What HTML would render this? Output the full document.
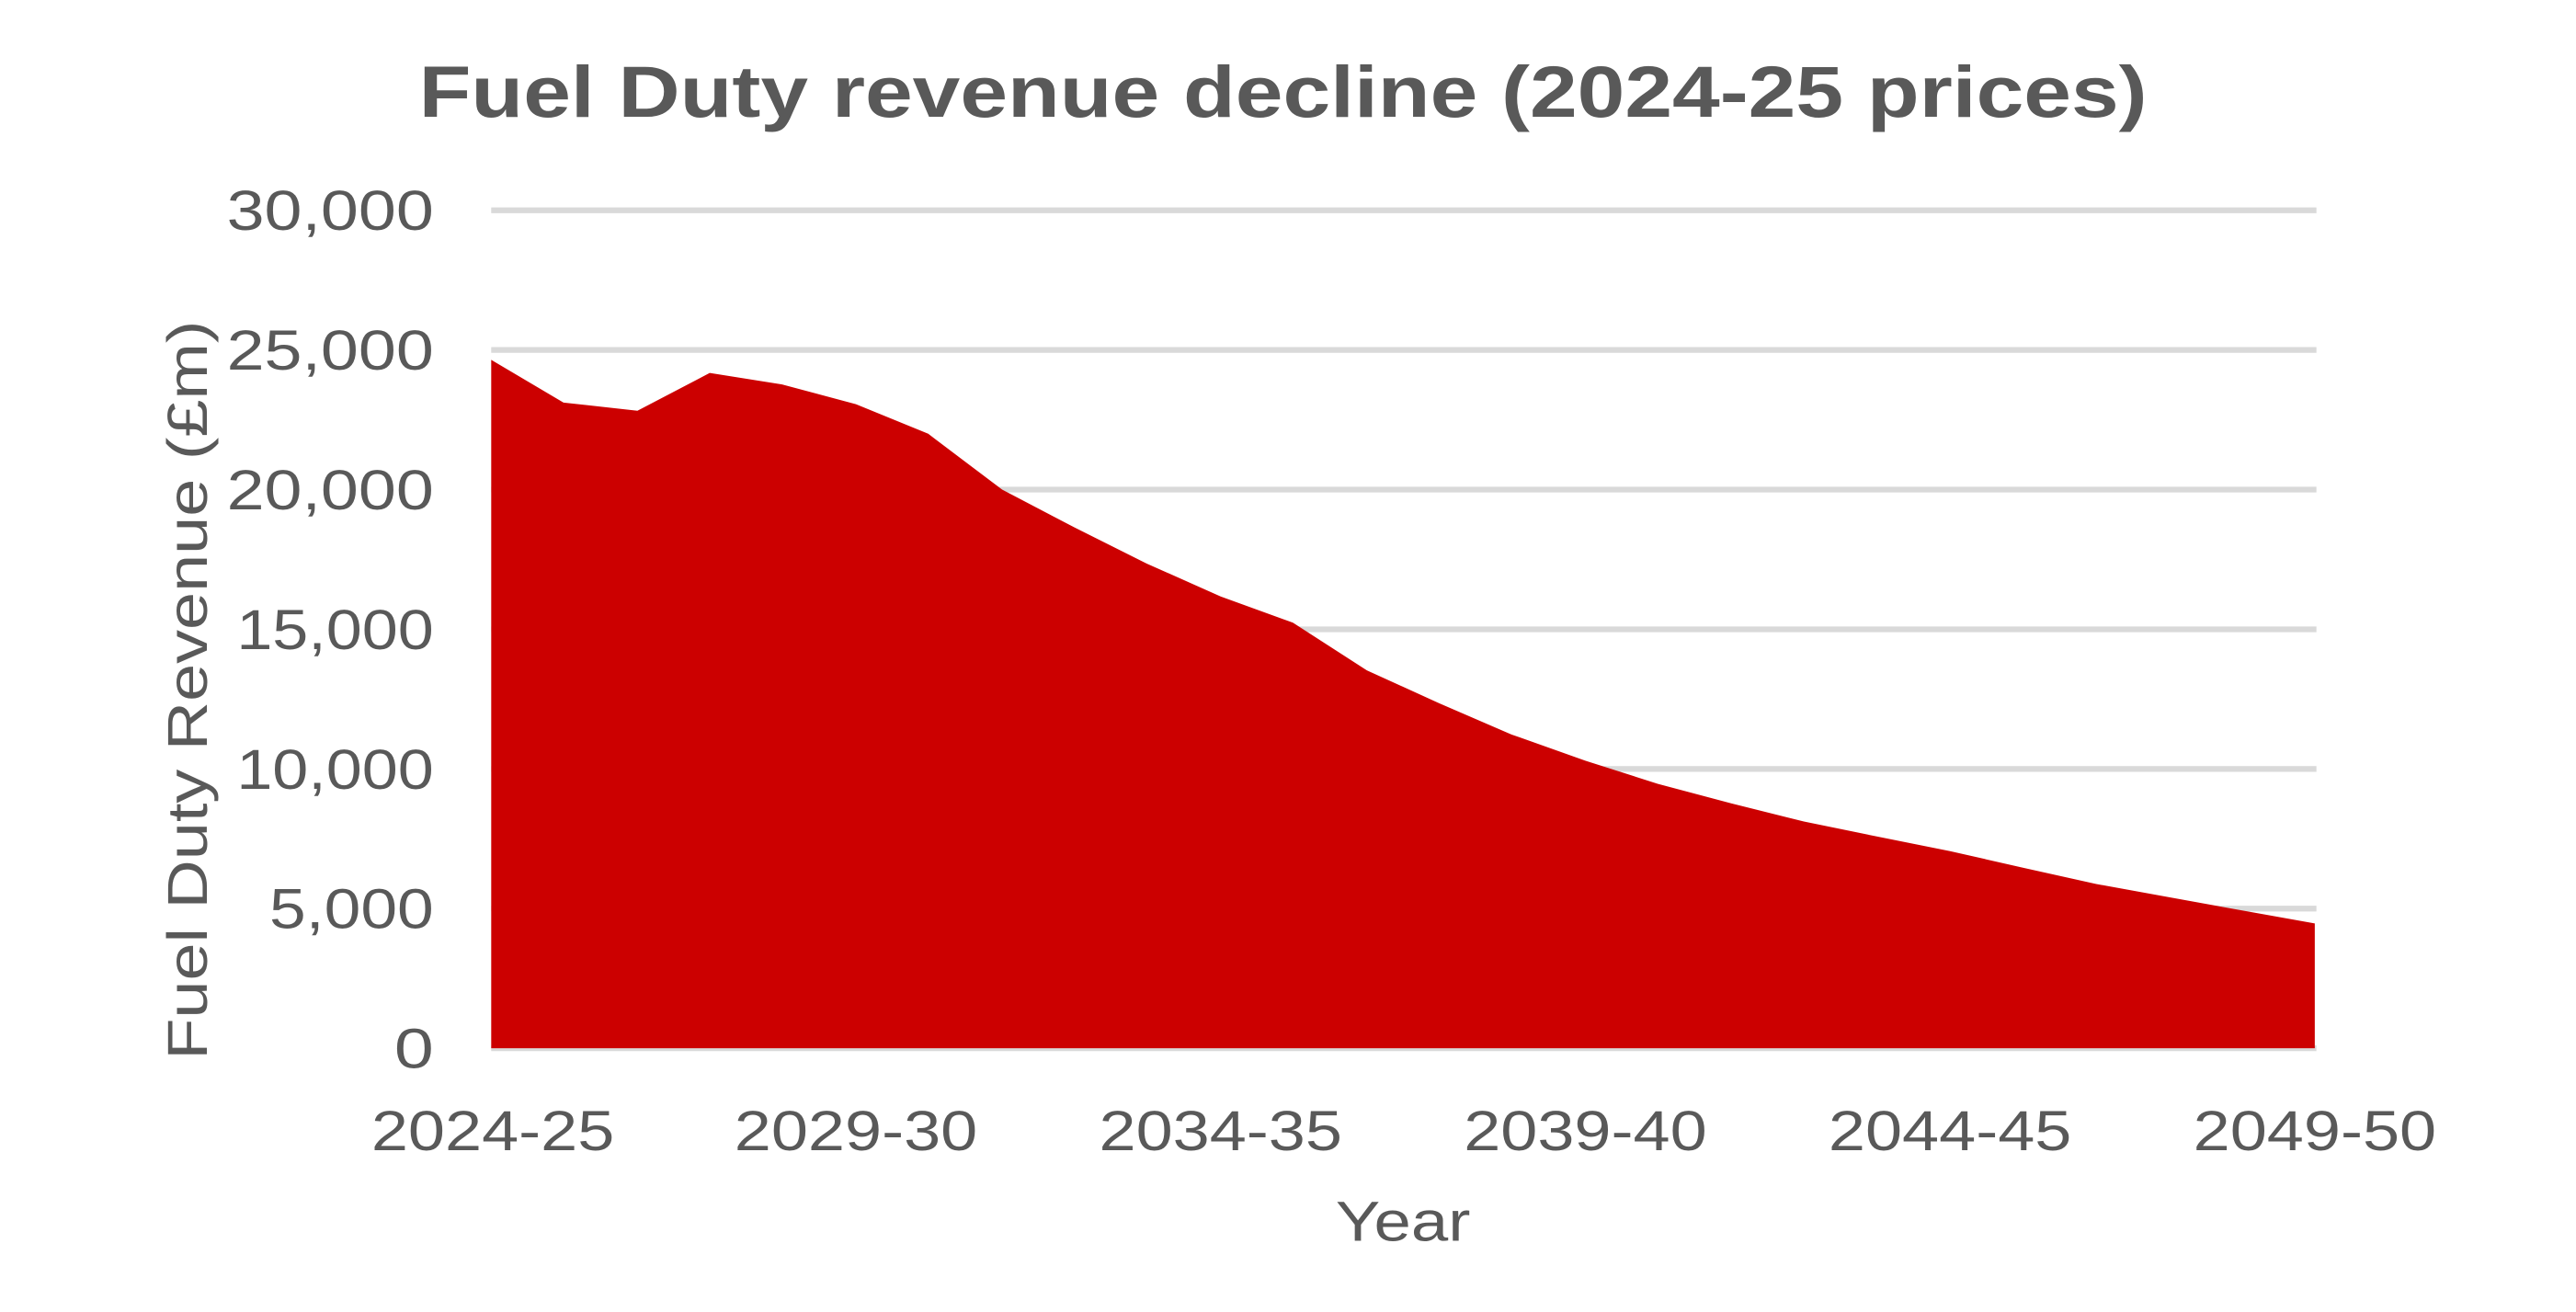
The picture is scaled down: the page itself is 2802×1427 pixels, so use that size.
<!DOCTYPE html>
<html><head><meta charset="utf-8"><style>
html,body{margin:0;padding:0;background:#fff;}
svg{display:block;}
text{font-family:"Liberation Sans",sans-serif;fill:#595959;}
</style></head><body>
<svg width="2802" height="1427" viewBox="0 0 1568 798.5" preserveAspectRatio="none" xmlns="http://www.w3.org/2000/svg">
<rect width="1568" height="798.5" fill="#fff"/>
<text x="781" y="71" text-anchor="middle" font-size="44" font-weight="bold" textLength="1052" lengthAdjust="spacingAndGlyphs">Fuel Duty revenue decline (2024-25 prices)</text>
<g stroke="#d9d9d9" stroke-width="3.5">
<line x1="299" x2="1410" y1="128" y2="128"/>
<line x1="299" x2="1410" y1="213" y2="213"/>
<line x1="299" x2="1410" y1="298" y2="298"/>
<line x1="299" x2="1410" y1="383" y2="383"/>
<line x1="299" x2="1410" y1="468" y2="468"/>
<line x1="299" x2="1410" y1="553" y2="553"/>
<line x1="299" x2="1410" y1="638" y2="638"/>
</g>
<polygon fill="#cc0000" points="299,638 299,219 343,245 388,250 432,227 476,234 521,246 565,264 610,298 654,321 698,343 743,363 787,379 832,408 876,428 920,447 965,463 1009,477 1054,489 1098,500 1142,509 1187,518 1231,528 1276,538 1320,546 1364,554 1409,562 1409,638"/>
<g font-size="34" text-anchor="end">
<text x="264" y="140" textLength="126" lengthAdjust="spacingAndGlyphs">30,000</text>
<text x="264" y="225" textLength="126" lengthAdjust="spacingAndGlyphs">25,000</text>
<text x="264" y="310" textLength="126" lengthAdjust="spacingAndGlyphs">20,000</text>
<text x="264" y="395" textLength="120" lengthAdjust="spacingAndGlyphs">15,000</text>
<text x="264" y="480" textLength="120" lengthAdjust="spacingAndGlyphs">10,000</text>
<text x="264" y="565" textLength="100" lengthAdjust="spacingAndGlyphs">5,000</text>
<text x="264" y="650" textLength="24" lengthAdjust="spacingAndGlyphs">0</text>
</g>
<g font-size="34" text-anchor="middle">
<text x="300" y="700" textLength="148" lengthAdjust="spacingAndGlyphs">2024-25</text>
<text x="521" y="700" textLength="148" lengthAdjust="spacingAndGlyphs">2029-30</text>
<text x="743" y="700" textLength="148" lengthAdjust="spacingAndGlyphs">2034-35</text>
<text x="965" y="700" textLength="148" lengthAdjust="spacingAndGlyphs">2039-40</text>
<text x="1187" y="700" textLength="148" lengthAdjust="spacingAndGlyphs">2044-45</text>
<text x="1409" y="700" textLength="148" lengthAdjust="spacingAndGlyphs">2049-50</text>
<text x="854" y="755" textLength="82" lengthAdjust="spacingAndGlyphs">Year</text>
</g>
<text transform="translate(126,420) rotate(-90)" font-size="34" text-anchor="middle" textLength="450" lengthAdjust="spacingAndGlyphs">Fuel Duty Revenue (£m)</text>
</svg>
</body></html>
